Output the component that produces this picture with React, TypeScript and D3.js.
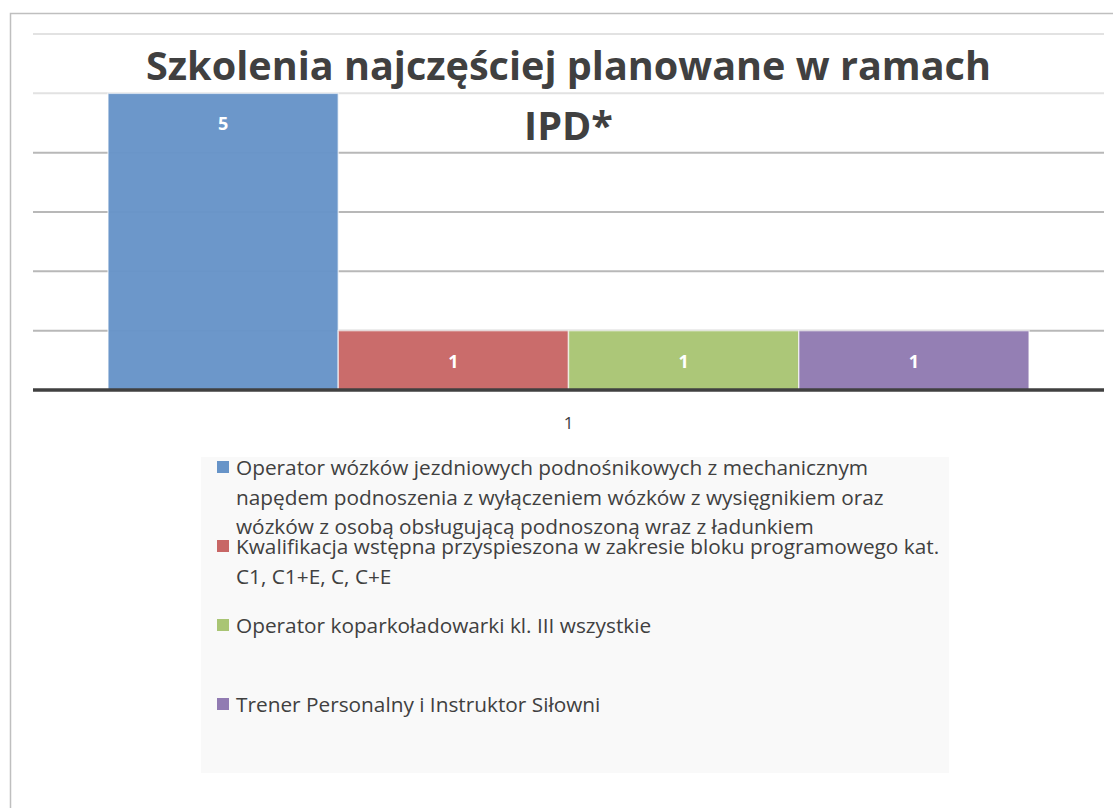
import React from 'react';
import * as d3 from 'd3';

const width = 1113;
const height = 808;

const title = ['Szkolenia najczęściej planowane w ramach', 'IPD*'];
const category = ['1'];
const series = [
  'Operator wózków jezdniowych podnośnikowych z mechanicznym napędem podnoszenia z wyłączeniem wózków z wysięgnikiem oraz wózków z osobą obsługującą podnoszoną wraz z ładunkiem',
  'Kwalifikacja wstępna przyspieszona w zakresie bloku programowego kat. C1, C1+E, C, C+E',
  'Operator koparkoładowarki kl. III wszystkie',
  'Trener Personalny i Instruktor Siłowni',
];
// legend lines as wrapped in the original
const legendLines = [
  ['Operator wózków jezdniowych podnośnikowych z mechanicznym', 'napędem podnoszenia z wyłączeniem wózków z wysięgnikiem oraz', 'wózków z osobą obsługującą podnoszoną wraz z ładunkiem'],
  ['Kwalifikacja wstępna przyspieszona w zakresie bloku programowego kat.', 'C1, C1+E, C, C+E'],
  ['Operator koparkoładowarki kl. III wszystkie'],
  ['Trener Personalny i Instruktor Siłowni'],
];
const values = [5, 1, 1, 1];
const colors = ['#6794c8', '#c86766', '#a9c574', '#917bb2'];
const yTicks = [0, 1, 2, 3, 4, 5, 6];

const font = '"Open Sans", "Noto Sans", sans-serif';
const plot = { left: 33, right: 1104, top: 34, bottom: 390 };

export default function App() {
  const y = d3.scaleLinear().domain([0, 6]).range([plot.bottom, plot.top]);
  const x0 = d3.scaleBand().domain(category).range([plot.left, plot.right]).paddingInner(0).paddingOuter(75 / 921);
  const x1 = d3.scaleBand().domain(series).range([0, x0.bandwidth()]);
  const legendY = d3.scaleLinear().domain([0, 3]).range([467, 704]);

  return (
    <svg width={width} height={height} style={{ position: 'absolute', left: 0, top: 0, background: '#fff' }}>
      <rect x={10.5} y={13.5} width={1200} height={900} fill="#fff" stroke="#bfbfbf" strokeWidth={1.5} />
      {yTicks.filter(t => t > 0).map(t => (
        <line key={t} x1={plot.left} x2={plot.right} y1={y(t)} y2={y(t)} stroke={t >= 5 ? '#e2e2e2' : '#b8b8b8'} strokeWidth={2} />
      ))}
      {category.map(c => (
        <g key={c} transform={`translate(${x0(c)},0)`}>
          {series.map((s, i) => (
            <g key={s}>
              <rect x={x1(s)} y={y(values[i])} width={x1.bandwidth()} height={y(0) - y(values[i])}
                fill={colors[i]} fillOpacity={0.97} stroke="#fff" strokeOpacity={0.6} strokeWidth={1.5} />
              <text x={(x1(s) as number) + x1.bandwidth() / 2} y={y(values[i]) + 30} textAnchor="middle" dominantBaseline="central"
                fill="#fff" fontFamily={font} fontWeight="bold" fontSize={18}>{values[i]}</text>
            </g>
          ))}
          <text x={x0.bandwidth() / 2} y={422} textAnchor="middle" dominantBaseline="central" fill="#404040" fontFamily={font} fontSize={17}>{c}</text>
        </g>
      ))}
      <line x1={plot.left} x2={plot.right} y1={y(0)} y2={y(0)} stroke="#404040" strokeWidth={3.5} />
      {title.map((t, i) => (
        <text key={t} x={(plot.left + plot.right) / 2} y={80 + i * 60} textAnchor="middle" fill="#404040"
          fontFamily={font} fontWeight="bold" fontSize={39.6}>{t}</text>
      ))}
      <rect x={201} y={457} width={748} height={316} fill="#f9f9f9" />
      {legendLines.map((lines, i) => (
        <g key={i}>
          <rect x={217} y={legendY(i) - 6} width={12} height={12} fill={colors[i]} />
          {lines.map((l, j) => (
            <text key={j} x={236} y={legendY(i) + j * 29.5} dominantBaseline="central" fill="#404040" fontFamily={font} fontSize={20.8}>{l}</text>
          ))}
        </g>
      ))}
    </svg>
  );
}
